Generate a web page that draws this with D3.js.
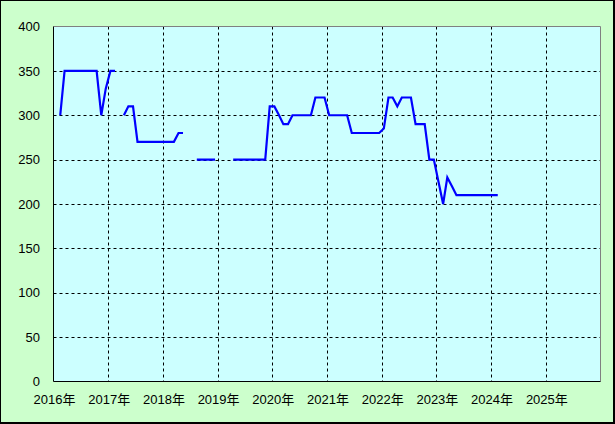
<!DOCTYPE html>
<html>
<head>
<meta charset="utf-8">
<script src="https://cdn.jsdelivr.net/npm/d3@7"></script>
<style>
html,body{margin:0;padding:0;background:#fff;}
svg{display:block;}
text{font-family:"Liberation Sans",Arial,"Noto Sans CJK JP",sans-serif;font-size:13px;fill:#000;}
</style>
</head>
<body>
<svg id="chart" width="615" height="424"></svg>
<script>
// Monthly values starting January 2016 (null = no data)
const startMonth = "2016-01";
const values = [
  null, 300, 350, 350, 350, 350, 350, 350, 350, 350, 300, 330,   // 2016
  350, 350, null, 300, 310, 310, 270, 270, 270, 270, 270, 270,   // 2017
  270, 270, 270, 280, 280, null, null, 250, 250, 250, 250, 250,  // 2018
  null, null, null, 250, 250, 250, 250, 250, 250, 250, 250, 310, // 2019
  310, 300, 290, 290, 300, 300, 300, 300, 300, 320, 320, 320,    // 2020
  300, 300, 300, 300, 300, 280, 280, 280, 280, 280, 280, 280,    // 2021
  285, 320, 320, 310, 320, 320, 320, 290, 290, 290, 250, 250,    // 2022
  225, 200, 230, 220, 210, 210, 210, 210, 210, 210, 210, 210,    // 2023
  210, 210                                                       // 2024
];
const yearLabels = ["2016年","2017年","2018年","2019年","2020年","2021年","2022年","2023年","2024年","2025年"];
const yTicks = [0, 50, 100, 150, 200, 250, 300, 350, 400];

const svg = d3.select("#chart");
const W = 615, H = 424;
const L = 53.5, R = 600.5, T = 26.5, B = 381.5;

// outer frame
svg.append("rect").attr("x",0).attr("y",0).attr("width",W).attr("height",H).attr("fill","#000");
svg.append("rect").attr("x",1).attr("y",1).attr("width",W-3).attr("height",H-3).attr("fill","#ccffcc");

const parseMonth = d3.timeParse("%Y-%m");
const start = parseMonth(startMonth);
const data = values.map((v,i) => {
  const m = d3.timeMonth.offset(start, i);
  return {date: d3.timeDay.offset(m, 14), v: v};
});

const x = d3.scaleTime()
  .domain([new Date(2016,0,1), new Date(2026,0,1)])
  .range([L, R]);
const y = d3.scaleLinear().domain([0,400]).range([B, T]);

// plot background
svg.append("rect").attr("x",L).attr("y",T).attr("width",R-L).attr("height",B-T).attr("fill","#ccffff");

const yearDates = yearLabels.map((s,i) => new Date(2016+i,0,1));

// grid lines
const grid = svg.append("g").attr("stroke","#000").attr("stroke-width",1).attr("stroke-dasharray","3,3");
grid.selectAll("line.v").data(yearDates.slice(1)).join("line")
  .attr("x1", d => Math.round(x(d)) + 0.5).attr("x2", d => Math.round(x(d)) + 0.5)
  .attr("y1", T).attr("y2", B);
grid.selectAll("line.h").data(yTicks.filter(t => t > 0 && t < 400)).join("line")
  .attr("x1", L).attr("x2", R)
  .attr("y1", d => Math.round(y(d)) + 0.5).attr("y2", d => Math.round(y(d)) + 0.5);

// plot borders
svg.append("line").attr("x1",L).attr("x2",R).attr("y1",T).attr("y2",T).attr("stroke","#808080");
svg.append("line").attr("x1",R).attr("x2",R).attr("y1",T).attr("y2",B).attr("stroke","#808080");
svg.append("line").attr("x1",L).attr("x2",L).attr("y1",T).attr("y2",B).attr("stroke","#000");
svg.append("line").attr("x1",L).attr("x2",R).attr("y1",B).attr("y2",B).attr("stroke","#000");

// data line
const line = d3.line()
  .defined(d => d.v != null)
  .x(d => x(d.date))
  .y(d => y(d.v));
svg.append("path").datum(data)
  .attr("fill","none").attr("stroke","#0000ff").attr("stroke-width",2.2)
  .attr("stroke-linejoin","miter").attr("stroke-linecap","butt")
  .attr("d", line);

// y labels
svg.append("g").selectAll("text").data(yTicks).join("text")
  .attr("x", 40).attr("y", d => y(d)).attr("dy","0.36em")
  .attr("text-anchor","end").text(d => d);

// x labels
svg.append("g").selectAll("text").data(yearLabels).join("text")
  .attr("x", (d,i) => x(yearDates[i]) + 1).attr("y", 404)
  .attr("text-anchor","middle").text(d => d);
</script>
</body>
</html>
